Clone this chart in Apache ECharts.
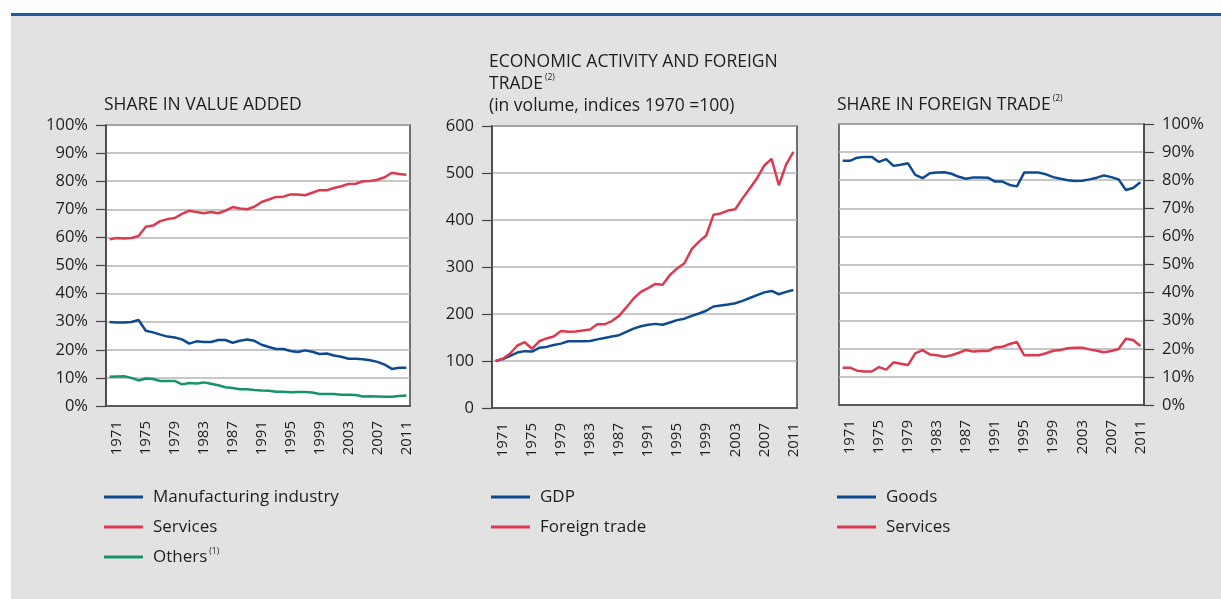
<!DOCTYPE html>
<html>

<head>
    <meta charset="UTF-8">
    <title>Value added and foreign trade</title>
    <script src="https://cdn.jsdelivr.net/npm/echarts@6/dist/echarts.min.js"></script>
    <style>
        html, body { margin: 0; padding: 0; background: #fff; }
    </style>
</head>

<body>
    <div id="main" style="width: 1221px; height: 599px;"></div>
    <script>
        // years 1970 .. 2011
        const years = ['1970', '1971', '1972', '1973', '1974', '1975', '1976', '1977', '1978', '1979',
            '1980', '1981', '1982', '1983', '1984', '1985', '1986', '1987', '1988', '1989',
            '1990', '1991', '1992', '1993', '1994', '1995', '1996', '1997', '1998', '1999',
            '2000', '2001', '2002', '2003', '2004', '2005', '2006', '2007', '2008', '2009',
            '2010', '2011'];

        // share in value added (%)
        const vaManufacturing = [29.9, 29.7, 29.7, 29.9, 30.6, 26.8, 26.2, 25.4, 24.7, 24.4,
            23.7, 22.2, 23.0, 22.8, 22.8, 23.5, 23.5, 22.5, 23.2, 23.7,
            23.2, 21.8, 21.0, 20.3, 20.3, 19.6, 19.2, 19.8, 19.3, 18.5,
            18.7, 18.0, 17.5, 16.8, 16.8, 16.6, 16.3, 15.7, 14.7, 13.2,
            13.6, 13.6];
        const vaServices = [59.3, 59.8, 59.6, 59.8, 60.5, 63.8, 64.2, 65.8, 66.5, 66.9,
            68.4, 69.5, 69.0, 68.6, 69.0, 68.6, 69.5, 70.8, 70.3, 70.0,
            70.9, 72.6, 73.5, 74.4, 74.5, 75.3, 75.3, 75.0, 75.9, 76.8,
            76.8, 77.6, 78.2, 79.0, 79.1, 80.0, 80.1, 80.5, 81.4, 83.0,
            82.6, 82.3];
        const vaOthers = [10.4, 10.5, 10.6, 10.0, 9.1, 9.8, 9.6, 8.9, 8.9, 8.9,
            7.7, 8.2, 8.0, 8.4, 7.9, 7.4, 6.7, 6.4, 6.0, 6.0,
            5.7, 5.5, 5.4, 5.1, 5.1, 4.9, 5.0, 5.0, 4.8, 4.3,
            4.3, 4.3, 4.0, 4.0, 3.9, 3.4, 3.5, 3.4, 3.3, 3.3,
            3.6, 3.7];

        // volume indices, 1970 = 100
        const gdpIndex = [100, 104, 111, 118, 121, 120, 128, 130, 134, 137,
            142, 142, 142, 142.5, 146, 149, 152, 155, 162, 169,
            174, 177, 179, 177, 182, 187, 190, 196, 201, 207,
            216, 218, 220, 223, 228, 234, 240, 246, 249, 242,
            247, 251];
        const tradeIndex = [100, 105, 116, 133, 140, 126, 142, 148, 152, 164,
            162, 163, 165, 167, 178, 178, 185, 196, 214, 233,
            247, 255, 264, 262, 283, 297, 308, 338, 354, 367,
            411, 414, 420, 423, 446, 467, 489, 516, 530, 474,
            518, 545];

        // share in foreign trade (%)
        const ftGoods = [86.9, 86.9, 88.0, 88.3, 88.3, 86.5, 87.5, 85.1, 85.5, 86.0,
            81.9, 80.7, 82.5, 82.7, 82.8, 82.3, 81.2, 80.5, 81.0, 81.0,
            80.9, 79.5, 79.5, 78.3, 77.8, 82.7, 82.7, 82.7, 82.1, 81.1,
            80.5, 80.0, 79.7, 79.8, 80.3, 80.9, 81.7, 81.1, 80.3, 76.5,
            77.2, 79.3];
        const ftServices = [13.3, 13.3, 12.2, 11.9, 11.9, 13.5, 12.6, 15.2, 14.7, 14.2,
            18.4, 19.5, 18.0, 17.7, 17.2, 17.7, 18.6, 19.6, 19.0, 19.2,
            19.2, 20.5, 20.7, 21.7, 22.4, 17.7, 17.7, 17.7, 18.4, 19.3,
            19.6, 20.2, 20.4, 20.4, 19.8, 19.3, 18.8, 19.2, 19.9, 23.6,
            23.1, 21.0];

        const BLUE = '#0d4b8e';
        const RED = '#dc3a50';
        const GREEN = '#16936d';
        const FONT = 'Open Sans';
        const TEXT = '#1e1e1e';

        const grids = [
            { left: 106, top: 125, width: 304, height: 281 },
            { left: 492, top: 126, width: 305, height: 282 },
            { left: 839, top: 124, width: 305, height: 281 }
        ];

        function xAxisFor(i) {
            return {
                type: 'category',
                gridIndex: i,
                data: years,
                boundaryGap: true,
                axisLine: { lineStyle: { color: '#444', width: 1.5 } },
                axisTick: {
                    inside: true, length: 9, alignWithLabel: true,
                    interval: 0, lineStyle: { color: '#333', width: 1.2 }
                },
                axisLabel: {
                    rotate: 90, margin: 15, fontFamily: FONT, fontSize: 15, color: TEXT,
                    interval: function (idx) { return (idx - 1) % 4 === 0; }
                },
                splitLine: { show: false }
            };
        }

        function yAxisFor(i, max, interval, fmt, pos) {
            return {
                type: 'value',
                gridIndex: i,
                position: pos,
                min: 0, max: max, interval: interval,
                axisLine: { show: true, lineStyle: { color: '#444', width: 1.5 } },
                axisTick: { show: true, length: 10, lineStyle: { color: '#444', width: 1.2 } },
                axisLabel: { formatter: fmt, fontFamily: FONT, fontSize: 16.5, color: TEXT, margin: 18 },
                splitLine: { lineStyle: { color: '#b5b5b5', width: 1.5 } }
            };
        }

        function line(name, data, color, idx) {
            return {
                name: name, type: 'line', data: data,
                xAxisIndex: idx, yAxisIndex: idx,
                symbol: 'none', smooth: false,
                lineStyle: { color: color, width: 2.5 },
                itemStyle: { color: color },
                animation: false
            };
        }

        const sup = { fontFamily: FONT, fontSize: 8.5, color: TEXT, verticalAlign: 'top', padding: [0, 0, 7, 2] };
        const titleStyle = { fontFamily: FONT, fontSize: 17.5, fontWeight: 'normal', color: TEXT, lineHeight: 22, rich: { sup: sup } };
        const legendText = { fontFamily: FONT, fontSize: 17, color: TEXT, padding: [0, 0, 0, 5], lineHeight: 20, rich: { sup: sup } };

        function legendFor(left, names) {
            return {
                orient: 'vertical', left: left, top: 487, padding: 0,
                itemWidth: 39, itemHeight: 3, itemGap: 10,
                icon: 'rect', data: names, selectedMode: false,
                textStyle: legendText,
                formatter: function (n) { return n === 'Others' ? 'Others{sup|(1)}' : n; }
            };
        }

        const option = {
            backgroundColor: '#ffffff',
            animation: false,
            graphic: [
                { type: 'rect', silent: true, z: -10, shape: { x: 11, y: 16, width: 1210, height: 583 }, style: { fill: '#e2e2e2' } },
                { type: 'rect', silent: true, z: -10, shape: { x: 11, y: 13, width: 1210, height: 3 }, style: { fill: '#1f5a9e' } }
            ],
            title: [
                { text: 'SHARE IN VALUE ADDED', left: 104, top: 94, padding: 0, textStyle: titleStyle },
                {
                    text: 'ECONOMIC ACTIVITY AND FOREIGN\nTRADE{sup|(2)}\n(in volume, indices 1970 =100)',
                    left: 489, top: 51, padding: 0, textStyle: titleStyle
                },
                { text: 'SHARE IN FOREIGN TRADE{sup|(2)}', left: 837, top: 94, padding: 0, textStyle: titleStyle }
            ],
            legend: [
                legendFor(104, ['Manufacturing industry', 'Services', 'Others']),
                legendFor(491, ['GDP', 'Foreign trade']),
                legendFor(837, ['Goods', 'Services '])
            ],
            grid: grids.map(g => Object.assign({
                show: true, backgroundColor: '#ffffff', borderColor: '#444', borderWidth: 1.5
            }, g)),
            xAxis: [xAxisFor(0), xAxisFor(1), xAxisFor(2)],
            yAxis: [
                yAxisFor(0, 100, 10, '{value}%', 'left'),
                yAxisFor(1, 600, 100, '{value}', 'left'),
                yAxisFor(2, 100, 10, '{value}%', 'right')
            ],
            series: [
                line('Manufacturing industry', vaManufacturing, BLUE, 0),
                line('Services', vaServices, RED, 0),
                line('Others', vaOthers, GREEN, 0),
                line('GDP', gdpIndex, BLUE, 1),
                line('Foreign trade', tradeIndex, RED, 1),
                line('Goods', ftGoods, BLUE, 2),
                line('Services ', ftServices, RED, 2)
            ]
        };

        const myChart = echarts.init(document.getElementById('main'));
        myChart.setOption(option);

        window.addEventListener('resize', function () {
            myChart.resize();
        });
    </script>
</body>

</html>
